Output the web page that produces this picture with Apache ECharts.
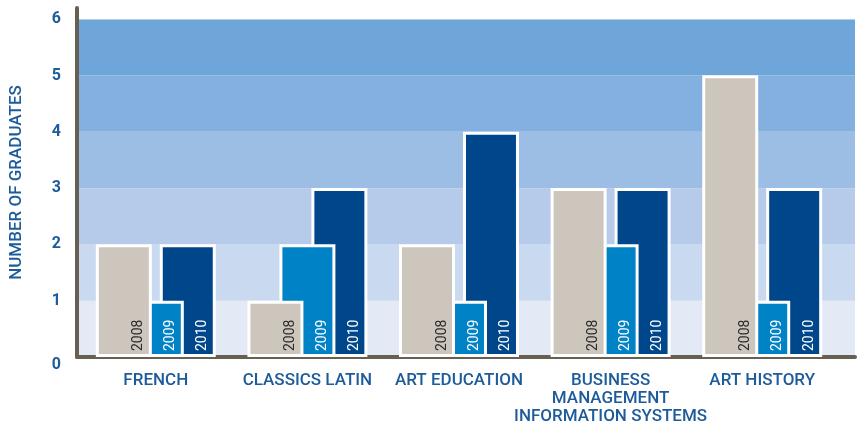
<!DOCTYPE html>
<html>
<head>
<meta charset="utf-8">
<script src="https://cdn.jsdelivr.net/npm/echarts@6/dist/echarts.min.js"></script>
<style>
  html, body { margin: 0; padding: 0; background: #ffffff; }
  #chart { width: 858px; height: 426px; }
</style>
</head>
<body>
<div id="chart"></div>
<script>
// Graduates per programme, by year
const categories = ['FRENCH', 'CLASSICS LATIN', 'ART EDUCATION', 'BUSINESS\nMANAGEMENT\nINFORMATION SYSTEMS', 'ART HISTORY'];
const years = ['2008', '2009', '2010'];
const grads2008 = [2, 1, 2, 3, 5];
const grads2009 = [1, 2, 1, 2, 1];
const grads2010 = [2, 3, 4, 3, 3];
const yTicks = [0, 1, 2, 3, 4, 5, 6];

const textBlue = '#1d5b9b';
const axisBrown = '#675f52';
const bandColors = ['#e3eaf6', '#c9daf0', '#b5cbe9', '#9dbee4', '#83b0de', '#6fa6d9', '#ffffff'];
const barColors = ['#cdc6bc', '#0082c6', '#00468a'];
const labelColors = ['#2b2b2b', '#ffffff', '#ffffff'];
const font = 'Roboto, "Noto Sans", sans-serif';

const chart = echarts.init(document.getElementById('chart'), null, { renderer: 'canvas' });

// Overlapping bars: each year is shifted right and drawn beneath the previous one
function barSeries(i, data) {
  return {
    name: years[i],
    type: 'bar',
    xAxisIndex: 1,
    yAxisIndex: 1,
    data: data,
    barWidth: 56,
    barGap: '-42.9%',
    z: 10 - i,
    itemStyle: { color: barColors[i], borderColor: '#ffffff', borderWidth: 3 },
    label: {
      show: true,
      formatter: years[i],
      position: 'insideBottom',
      rotate: 90,
      align: 'left',
      verticalAlign: 'middle',
      distance: 6,
      offset: [0, 15],
      color: labelColors[i],
      fontFamily: font,
      fontSize: 14
    },
    animation: false
  };
}

chart.setOption({
  animation: false,
  grid: [
    { left: 75, right: 3, top: 8, bottom: 69 },
    { left: 80, right: 20, top: 19, bottom: 69 }
  ],
  xAxis: [
    {
      gridIndex: 0, type: 'value', min: 0, max: 1,
      axisLine: { show: true, lineStyle: { color: axisBrown, width: 4 } },
      axisTick: { show: false }, axisLabel: { show: false }, splitLine: { show: false }
    },
    {
      gridIndex: 1, type: 'category', data: categories,
      axisLine: { show: false }, axisTick: { show: false },
      axisLabel: {
        color: textBlue, fontFamily: font, fontSize: 17, fontWeight: 500,
        lineHeight: 18, margin: 15, interval: 0
      }
    }
  ],
  yAxis: [
    {
      gridIndex: 0, type: 'value', min: 0, max: 6.2, interval: 1,
      name: 'NUMBER OF GRADUATES', nameLocation: 'middle', nameRotate: 90, nameGap: 52,
      nameTextStyle: { color: textBlue, fontFamily: font, fontSize: 17, fontWeight: 500 },
      axisLine: { show: true, lineStyle: { color: axisBrown, width: 4 } },
      axisTick: { show: false },
      splitLine: { show: false },
      splitArea: { show: true, areaStyle: { color: bandColors } },
      axisLabel: {
        color: textBlue, fontFamily: font, fontSize: 16, fontWeight: 'bold', margin: 16,
        formatter: function (v) {
          if (yTicks.indexOf(v) < 0) return '';
          return v === 0 ? '{z|0}' : String(v);
        },
        rich: { z: { color: textBlue, fontFamily: font, fontSize: 16, fontWeight: 'bold', padding: [16, 0, 0, 0] } }
      }
    },
    {
      gridIndex: 1, type: 'value', min: 0, max: 6, interval: 1, show: false,
      splitLine: { show: false }
    }
  ],
  series: [
    barSeries(0, grads2008),
    barSeries(1, grads2009),
    barSeries(2, grads2010)
  ]
});
</script>
</body>
</html>
